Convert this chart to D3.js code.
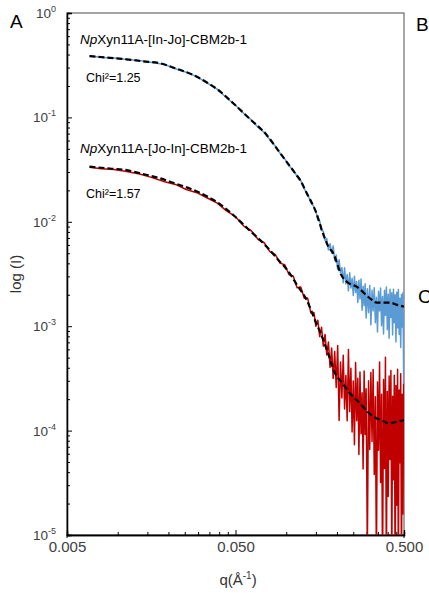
<!DOCTYPE html>
<html>
<head>
<meta charset="utf-8">
<script src="https://cdn.jsdelivr.net/npm/d3@7"></script>
<style>
  body { margin: 0; background: #fff; }
  svg { display: block; font-family: "Liberation Sans", Arial, sans-serif; }
</style>
</head>
<body>
<svg id="chart" width="429" height="593"></svg>
<script>
// Scattering vector q (Å^-1) of the measured curves
const qExp = [
  0.0068, 0.0080, 0.0095, 0.0113, 0.0135, 0.016, 0.019, 0.022, 0.0255, 0.0295,
  0.034, 0.039, 0.044, 0.050, 0.056, 0.062, 0.068, 0.074, 0.080, 0.086,
  0.092, 0.098, 0.104, 0.110, 0.116, 0.122, 0.128, 0.134, 0.140, 0.146,
  0.150, 0.154, 0.158, 0.162, 0.166, 0.170, 0.174, 0.178, 0.182, 0.186,
  0.190, 0.194, 0.198, 0.202, 0.206, 0.210, 0.214, 0.218, 0.222, 0.226,
  0.230, 0.234, 0.238, 0.242, 0.246, 0.250, 0.254, 0.258, 0.262, 0.266,
  0.270, 0.274, 0.278, 0.282, 0.286, 0.290, 0.294, 0.298,
  0.303, 0.308, 0.313, 0.318, 0.323, 0.328, 0.333, 0.338, 0.343, 0.348,
  0.353, 0.358, 0.363, 0.368, 0.373, 0.378, 0.383, 0.388, 0.393, 0.398,
  0.403, 0.408, 0.413, 0.418, 0.423, 0.428, 0.433, 0.438, 0.443, 0.448,
  0.453, 0.458, 0.463, 0.468, 0.473, 0.478, 0.483, 0.488, 0.493, 0.498
];

// Measured intensity, NpXyn11A-[In-Jo]-CBM2b-1
const blueExp = [
  0.390, 0.375, 0.371, 0.358, 0.351, 0.335, 0.321, 0.292, 0.271, 0.246,
  0.213, 0.186, 0.155, 0.131, 0.109, 0.0947, 0.0804, 0.0719, 0.0611, 0.0533,
  0.0452, 0.0400, 0.0344, 0.0312, 0.0273, 0.0248, 0.0207, 0.0183, 0.0154, 0.0139,
  0.0127, 0.01045, 0.01023, 0.00826, 0.00813, 0.00661, 0.00692, 0.00539, 0.00617, 0.00500,
  0.00586, 0.00426, 0.00480, 0.00350, 0.00434, 0.00324, 0.00364, 0.00261, 0.00363, 0.00254,
  0.00312, 0.00218, 0.00325, 0.00232, 0.00288, 0.00197, 0.00301, 0.00210, 0.00268, 0.00169,
  0.00275, 0.00182, 0.00283, 0.00142, 0.00242, 0.00157, 0.00255, 0.00120,
  0.00229, 0.00135, 0.00245, 0.00103, 0.00221, 0.00140, 0.00234, 0.00108, 0.00189, 0.000881,
  0.00216, 0.00140, 0.00232, 0.00101, 0.00193, 0.000841, 0.00221, 0.00127, 0.00237, 0.000923,
  0.00202, 0.000767, 0.00226, 0.00121, 0.00209, 0.000826, 0.00226, 0.00108, 0.00200, 0.000705,
  0.00212, 0.000964, 0.00225, 0.000832, 0.00185, 0.000625, 0.00201, 0.000982, 0.00209, 0.000281
];

// Measured intensity, NpXyn11A-[Jo-In]-CBM2b-1
const redExp = [
  0.0333, 0.0322, 0.0317, 0.0303, 0.0287, 0.0265, 0.0242, 0.0228, 0.0204, 0.0190,
  0.0169, 0.0151, 0.0128, 0.0112, 0.00911, 0.00821, 0.00680, 0.00630, 0.00518, 0.00488,
  0.00402, 0.00388, 0.00311, 0.00303, 0.00234, 0.00237, 0.00185, 0.00186, 0.00134, 0.00135,
  9.98e-4, 1.14e-3, 7.96e-4, 9.75e-4, 6.43e-4, 8.34e-4, 5.30e-4, 7.06e-4, 4.03e-4, 6.18e-4,
  3.16e-4, 5.72e-4, 2.59e-4, 6.53e-4, 1.25e-4, 4.55e-4, 2.05e-4, 5.28e-4, 1.61e-4, 3.38e-4,
  1.24e-4, 5.98e-4, 1.52e-4, 3.96e-4, 9.71e-5, 2.99e-4, 7.31e-5, 4.50e-4, 1.24e-4, 3.18e-4,
  5.90e-5, 3.64e-4, 9.35e-5, 2.30e-4, 4.28e-5, 3.72e-4, 9.16e-5, 2.52e-4,
  6.92e-6, 3.01e-4, 6.58e-5, 3.61e-4, 7.87e-5, 3.85e-4, 3.79e-5, 2.11e-4, 5.25e-6, 2.92e-4,
  6.47e-5, 4.54e-4, 3.18e-5, 2.23e-4, 3.93e-6, 3.09e-4, 4.33e-5, 5.04e-4, 4.25e-6, 2.37e-4,
  2.34e-5, 3.33e-4, 5.28e-5, 3.76e-4, 4.74e-6, 2.13e-4, 3.38e-5, 3.39e-4, 3.82e-6, 2.71e-4,
  1.93e-5, 3.86e-4, 4.35e-6, 2.45e-4, 4.92e-5, 3.50e-4, 3.94e-6, 2.23e-4, 1.59e-5, 3.56e-4
];

// Model fits (dashed curves)
const qFitBlue = [0.0068, 0.009, 0.0113, 0.014, 0.0178, 0.022, 0.0281, 0.034, 0.0395, 0.0485,
  0.060, 0.0766, 0.090, 0.1024, 0.115, 0.121, 0.1323, 0.150, 0.166, 0.178,
  0.190, 0.213, 0.2285, 0.262, 0.314, 0.344, 0.413, 0.455, 0.500];
const blueFit = [0.387, 0.372, 0.360, 0.345, 0.330, 0.295, 0.255, 0.215, 0.183, 0.1365,
  0.0986, 0.0678, 0.0478, 0.0361, 0.0281, 0.0251, 0.0188, 0.01245, 0.00759, 0.00577,
  0.00499, 0.00306, 0.00267, 0.00239, 0.00185, 0.00168, 0.00168, 0.00160, 0.00154];

const qFitRed = [0.0068, 0.009, 0.0113, 0.014, 0.0178, 0.022, 0.0281, 0.034, 0.0395, 0.0485,
  0.060, 0.0766, 0.090, 0.1024, 0.115, 0.1323, 0.150, 0.166, 0.178, 0.1948,
  0.213, 0.239, 0.274, 0.329, 0.375, 0.403, 0.455, 0.500];
const redFit = [0.0337, 0.0324, 0.0313, 0.0288, 0.0261, 0.0232, 0.0202, 0.01746, 0.01514, 0.01161,
  0.00840, 0.00577, 0.00429, 0.00338, 0.00253, 0.00178, 0.00109, 0.000738, 0.000536, 0.000354,
  0.000292, 0.000228, 0.000182, 0.000136, 0.000124, 0.0001175, 0.0001216, 0.0001265];

const seriesNames = ["Xyn11A-[In-Jo]-CBM2b-1", "Xyn11A-[Jo-In]-CBM2b-1"];
const chiLabels = ["Chi²=1.25", "Chi²=1.57"];

const xTicks = [0.005, 0.05, 0.5];
const xTickLabels = ["0.005", "0.050", "0.500"];
const yTicks = [1, 1e-1, 1e-2, 1e-3, 1e-4, 1e-5];
const yTickExponents = ["0", "-1", "-2", "-3", "-4", "-5"];

const svg = d3.select("#chart");
const plot = { left: 67, right: 404, top: 13, bottom: 535 };

const x = d3.scaleLog().domain([0.005, 0.5]).range([plot.left, plot.right]);
const y = d3.scaleLog().domain([1e-5, 1]).range([plot.bottom, plot.top]);

svg.append("defs").append("clipPath").attr("id", "plotClip")
  .append("rect")
  .attr("x", plot.left).attr("y", plot.top)
  .attr("width", plot.right - plot.left).attr("height", plot.bottom - plot.top);

// Frame
svg.append("rect")
  .attr("x", plot.left).attr("y", plot.top)
  .attr("width", plot.right - plot.left).attr("height", plot.bottom - plot.top)
  .attr("fill", "none").attr("stroke", "#4d4d4d").attr("stroke-width", 1);

// Minor tick values: multiples of the lower bound inside each decade
const xMinor = [];
[0.005, 0.05].forEach(b => d3.range(2, 10).forEach(k => xMinor.push(b * k)));
const yMinor = [];
[1e-5, 1e-4, 1e-3, 1e-2, 1e-1].forEach(b => d3.range(2, 10).forEach(k => yMinor.push(b * k)));

const xAxisMinor = svg.append("g")
  .attr("transform", `translate(0,${plot.bottom})`)
  .call(d3.axisBottom(x).tickValues(xMinor).tickSize(-3).tickFormat(""));
const xAxis = svg.append("g")
  .attr("transform", `translate(0,${plot.bottom})`)
  .call(d3.axisBottom(x).tickValues(xTicks).tickSize(-5).tickPadding(6)
    .tickFormat((d, i) => xTickLabels[i]));

const yAxisMinor = svg.append("g")
  .attr("transform", `translate(${plot.left},0)`)
  .call(d3.axisLeft(y).tickValues(yMinor).tickSize(-3).tickFormat(""));
const yAxis = svg.append("g")
  .attr("transform", `translate(${plot.left},0)`)
  .call(d3.axisLeft(y).tickValues(yTicks).tickSize(-5).tickFormat(""));

[xAxisMinor, xAxis, yAxisMinor, yAxis].forEach(g => {
  g.select(".domain").attr("stroke", "#000").attr("stroke-width", 1.3);
  g.selectAll(".tick line").attr("stroke", "#000").attr("stroke-width", 1);
});
xAxis.selectAll(".tick text")
  .attr("font-size", 15).attr("fill", "#404040")
  .attr("font-family", "'Liberation Sans', Arial, sans-serif");

// Small marks below the bottom corners
svg.append("g").selectAll("line").data([0.005, 0.5]).join("line")
  .attr("x1", d => x(d)).attr("x2", d => x(d))
  .attr("y1", plot.bottom).attr("y2", plot.bottom + 3)
  .attr("stroke", "#000").attr("stroke-width", 1);

// Y tick labels written as powers of ten
const yLab = svg.append("g").attr("fill", "#404040");
yTicks.forEach((v, i) => {
  const t = yLab.append("text")
    .attr("x", 56).attr("y", y(v) + 5)
    .attr("text-anchor", "end").attr("font-size", 13.5);
  t.append("tspan").text("10");
  t.append("tspan").attr("dy", -6).attr("font-size", 9).text(yTickExponents[i]);
});

// Axis titles
svg.append("text")
  .attr("transform", `translate(21,${(plot.top + plot.bottom) / 2}) rotate(-90)`)
  .attr("text-anchor", "middle").attr("font-size", 15).attr("fill", "#333")
  .text("log (I)");

const xTitle = svg.append("text")
  .attr("x", 238).attr("y", 585)
  .attr("text-anchor", "middle").attr("font-size", 15).attr("fill", "#333");
xTitle.append("tspan").text("q(Å");
xTitle.append("tspan").attr("dy", -6).attr("font-size", 10).text("-1");
xTitle.append("tspan").attr("dy", 6).text(")");

// Curves
const line = d3.line().x(d => x(d[0])).y(d => y(d[1]));
const fitLine = d3.line().x(d => x(d[0])).y(d => y(d[1])).curve(d3.curveMonotoneX);

const curves = svg.append("g").attr("clip-path", "url(#plotClip)");

curves.append("path")
  .datum(qExp.map((q, i) => [q, redExp[i]]))
  .attr("d", line).attr("fill", "none")
  .attr("stroke", "#C00000").attr("stroke-width", 1.5).attr("stroke-linejoin", "round");

curves.append("path")
  .datum(qExp.map((q, i) => [q, blueExp[i]]))
  .attr("d", line).attr("fill", "none")
  .attr("stroke", "#5B9BD5").attr("stroke-width", 1.5).attr("stroke-linejoin", "round");

curves.append("path")
  .datum(qFitRed.map((q, i) => [q, redFit[i]]))
  .attr("d", fitLine).attr("fill", "none")
  .attr("stroke", "#000").attr("stroke-width", 2.2).attr("stroke-dasharray", "6,3");

curves.append("path")
  .datum(qFitBlue.map((q, i) => [q, blueFit[i]]))
  .attr("d", fitLine).attr("fill", "none")
  .attr("stroke", "#000").attr("stroke-width", 2.2).attr("stroke-dasharray", "6,3");

// Series labels
const labelY = [44, 153];
const chiY = [82, 198];
seriesNames.forEach((name, i) => {
  const t = svg.append("text")
    .attr("x", 80).attr("y", labelY[i]).attr("font-size", 13.5).attr("fill", "#000");
  t.append("tspan").attr("font-style", "italic").text("Np");
  t.append("tspan").text(name);
  svg.append("text")
    .attr("x", 86).attr("y", chiY[i]).attr("font-size", 12.5).attr("fill", "#000")
    .text(chiLabels[i]);
});

// Panel letters
const panels = [["A", 10, 28], ["B", 416, 31], ["C", 418, 303]];
svg.append("g").selectAll("text").data(panels).join("text")
  .attr("x", d => d[1]).attr("y", d => d[2])
  .attr("font-size", 19).attr("fill", "#000")
  .text(d => d[0]);
</script>
</body>
</html>
